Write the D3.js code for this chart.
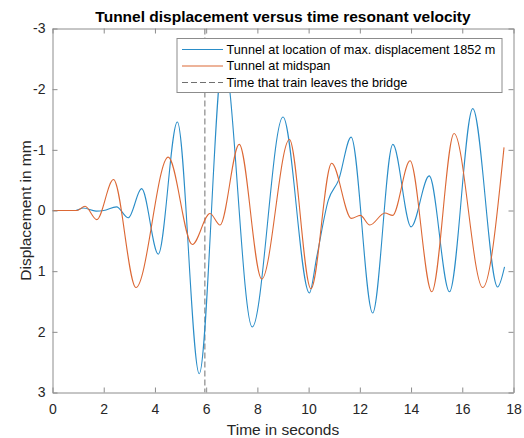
<!DOCTYPE html>
<html>
<head>
<meta charset="utf-8">
<script src="https://cdn.jsdelivr.net/npm/d3@7"></script>
<style>
  body { margin: 0; background: #fff; }
  text { font-family: "Liberation Sans", Arial, Helvetica, sans-serif; }
</style>
</head>
<body>
<svg id="chart" width="524" height="438"></svg>
<script>
// ---- data ----
const xTicks = [0, 2, 4, 6, 8, 10, 12, 14, 16, 18];
const yTicks = [-3, -2, -1, 0, 1, 2, 3];

const blueTime = [0, 0.9, 1.2, 1.7, 2.0, 2.5, 2.96, 3.48, 4.13, 4.875, 5.73, 6.67, 7.8, 9.0, 10.03, 10.32, 10.77, 11.17, 11.66, 12.5, 13.29, 14.0, 14.71, 15.5, 16.41, 17.38, 17.65];
const blueDisp = [0, 0, -0.04, 0.01, 0.0, -0.06, 0.12, -0.36, 0.72, -1.46, 2.69, -2.55, 1.92, -1.54, 1.36, 0.76, -0.17, -0.5, -1.21, 1.69, -1.09, 0.27, -0.57, 1.34, -1.68, 1.26, 0.93];

const orangeTime = [0, 0.95, 1.27, 1.73, 2.38, 3.26, 4.52, 5.46, 6.15, 6.54, 7.29, 8.17, 9.25, 10.09, 10.9, 11.67, 12.02, 12.39, 12.98, 13.28, 13.96, 14.81, 15.68, 16.8, 17.63];
const orangeDisp = [0, 0, -0.07, 0.15, -0.51, 1.27, -0.88, 0.56, 0.05, 0.24, -1.09, 1.13, -1.17, 1.29, -0.78, 0.13, 0.08, 0.24, 0.04, 0.08, -0.82, 1.34, -1.27, 1.27, -1.04];

const leaveTime = 5.95;

const seriesNames = [
  "Tunnel at location of max. displacement 1852 m",
  "Tunnel at midspan",
  "Time that train leaves the bridge"
];
const titleText = "Tunnel displacement versus time resonant velocity";
const xLabel = "Time in seconds";
const yLabel = "Displacement in mm";

// ---- drawing ----
const svg = d3.select("#chart");
const pL = 52.5, pR = 513.5, pT = 28.5, pB = 392.5;
const x = d3.scaleLinear().domain([0, 18]).range([pL, pR]);
const y = d3.scaleLinear().domain([-3, 3]).range([pT, pB]);

const axisColor = "#8c8c8c";
const textColor = "#262626";
const blueColor = "#2a8dc8";
const orangeColor = "#dc6835";

svg.append("defs").append("clipPath").attr("id", "clip")
  .append("rect").attr("x", pL).attr("y", pT).attr("width", pR - pL).attr("height", pB - pT);

const plot = svg.append("g").attr("clip-path", "url(#clip)");

const mk = (ts, vs) => ts.map((t, i) => [t, vs[i]]);
const line = d3.line().x(d => x(d[0])).y(d => y(d[1])).curve(d3.curveMonotoneX);

plot.append("line")
  .attr("x1", x(leaveTime)).attr("x2", x(leaveTime))
  .attr("y1", pT).attr("y2", pB)
  .attr("stroke", "#707070").attr("stroke-width", 1).attr("stroke-dasharray", "6,3");

plot.append("path").datum(mk(blueTime, blueDisp))
  .attr("d", line).attr("fill", "none").attr("stroke", blueColor).attr("stroke-width", 1.1);
plot.append("path").datum(mk(orangeTime, orangeDisp))
  .attr("d", line).attr("fill", "none").attr("stroke", orangeColor).attr("stroke-width", 1.1);

const fmt = d => String(d);
function styleAxis(g) {
  g.selectAll("path.domain").attr("stroke", axisColor);
  g.selectAll(".tick line").attr("stroke", axisColor);
  g.selectAll(".tick text").attr("fill", textColor).style("font-size", "14px")
    .style("font-family", '"Liberation Sans", Arial, sans-serif');
}
svg.append("g").attr("transform", `translate(0,${pB})`)
  .call(d3.axisBottom(x).tickValues(xTicks).tickFormat(fmt).tickSizeInner(-5).tickSizeOuter(0).tickPadding(11.5))
  .call(styleAxis);
svg.append("g").attr("transform", `translate(0,${pT})`)
  .call(d3.axisTop(x).tickValues(xTicks).tickSizeInner(-5).tickSizeOuter(0).tickFormat(""))
  .call(styleAxis);
svg.append("g").attr("transform", `translate(${pL},0)`)
  .call(d3.axisLeft(y).tickValues(yTicks).tickFormat(fmt).tickSizeInner(-5).tickSizeOuter(0).tickPadding(7))
  .call(styleAxis);
svg.append("g").attr("transform", `translate(${pR},0)`)
  .call(d3.axisRight(y).tickValues(yTicks).tickSizeInner(-5).tickSizeOuter(0).tickFormat(""))
  .call(styleAxis);

svg.append("text").attr("x", (pL + pR) / 2).attr("y", 22)
  .attr("text-anchor", "middle").attr("fill", "#000")
  .style("font-size", "15.5px").style("font-weight", "bold").text(titleText);
svg.append("text").attr("x", (pL + pR) / 2).attr("y", 435)
  .attr("text-anchor", "middle").attr("fill", textColor)
  .style("font-size", "15.5px").text(xLabel);
svg.append("text").attr("transform", `translate(31,${(pT + pB) / 2}) rotate(-90)`)
  .attr("text-anchor", "middle").attr("fill", textColor)
  .style("font-size", "15.5px").text(yLabel);

const lg = svg.append("g");
lg.append("rect").attr("x", 177).attr("y", 38.5).attr("width", 325).attr("height", 54)
  .attr("fill", "#fff").attr("stroke", axisColor).attr("stroke-width", 1);
const rows = [
  { name: seriesNames[0], color: blueColor, dash: null },
  { name: seriesNames[1], color: orangeColor, dash: null },
  { name: seriesNames[2], color: "#707070", dash: "6,3" }
];
const rowY = [49.5, 66, 82.5];
rows.forEach((r, i) => {
  lg.append("line").attr("x1", 182).attr("x2", 223).attr("y1", rowY[i]).attr("y2", rowY[i])
    .attr("stroke", r.color).attr("stroke-width", 1.1).attr("stroke-dasharray", r.dash);
  lg.append("text").attr("x", 226.5).attr("y", rowY[i]).attr("dy", "0.35em")
    .attr("fill", "#000").style("font-size", "12.7px").text(r.name);
});
</script>
</body>
</html>
